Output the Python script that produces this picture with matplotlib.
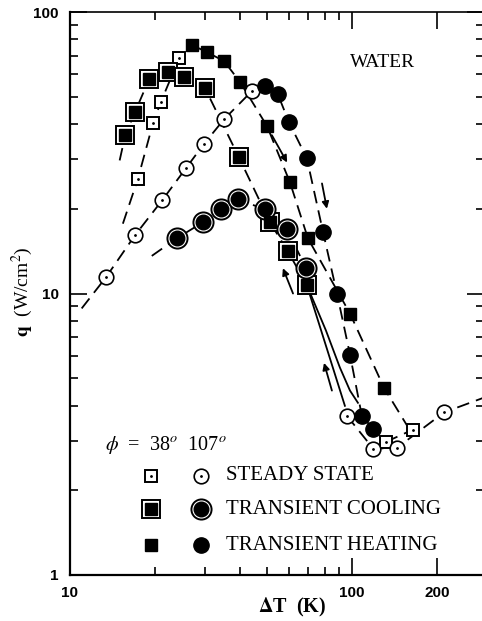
import numpy as np
import matplotlib
matplotlib.use('Agg')
from matplotlib import pyplot as plt
from matplotlib.ticker import FixedLocator, FixedFormatter, NullFormatter

# --- data (dT in K, q in W/cm2) ---
# steady state, phi = 38 deg (squares)
ss_sq_dT = [17.4, 19.7, 21.0, 24.4]
ss_sq_q = [25.5, 40.3, 47.9, 68.6]
ss_sq_lo_dT = [132, 164]
ss_sq_lo_q = [2.97, 3.28]
ss_sq_tail = ([15.4], [17.7])

# steady state, phi = 107 deg (circles)
ss_ci_dT = [13.4, 17.0, 21.2, 25.8, 29.8, 35.2, 44.2]
ss_ci_q = [11.4, 16.1, 21.4, 27.9, 33.9, 41.6, 52.4]
ss_ci_lo_dT = [95.9, 119, 144.5, 212]
ss_ci_lo_q = [3.68, 2.81, 2.83, 3.78]
ss_ci_tail = ([11.0], [8.85])
ss_ci_lo_tail = ([300], [4.3])

# transient cooling
tc_sq_dT = [15.7, 17.0, 19.1, 22.3, 25.4, 30.1, 39.7, 51.2, 59.3, 69.2]
tc_sq_q = [36.5, 44.1, 57.8, 61.1, 58.7, 53.7, 30.5, 17.9, 14.1, 10.7]
tc_sq_tail = ([15.0], [29.7])
tc_ci_dT = [23.9, 29.6, 34.3, 39.4, 49.1, 58.9, 68.7]
tc_ci_q = [15.7, 17.9, 19.9, 21.6, 19.9, 16.9, 12.3]
tc_ci_tail = ([19.5], [13.6])

# quench tails of the cooling runs (solid lines)
quench_a_dT = [69.2, 94.4]
quench_a_q = [10.7, 3.99]
quench_b_dT = [69.2, 80.9, 90.6, 98.4, 105]
quench_b_q = [10.7, 7.38, 5.46, 4.52, 4.09]

# transient heating
th_sq_dT = [27.1, 30.6, 35.2, 40.1, 50.0, 60.3, 69.8, 98.4, 130]
th_sq_q = [76.3, 72.0, 66.9, 56.4, 39.3, 24.8, 15.7, 8.49, 4.62]
th_sq_tail = ([157], [3.39])
th_ci_dT = [49.1, 54.6, 59.8, 69.2, 78.9, 88.5, 98.4, 108.4, 118.6]
th_ci_q = [54.6, 51.0, 40.6, 30.2, 16.6, 10.0, 6.07, 3.68, 3.31]

# direction arrows (tail -> head)
arrows_down = [((52.0, 36.5), (58.9, 29.2)), ((78.3, 24.6), (81.5, 20.0))]
arrows_up = [((61.8, 10.0), (56.9, 12.3)), ((84.9, 4.52), (79.6, 5.67))]

legend_rows = ['STEADY STATE', 'TRANSIENT COOLING', 'TRANSIENT HEATING']

plt.rcParams['font.family'] = ['Liberation Serif', 'DejaVu Serif']
plt.rcParams['mathtext.fontset'] = 'stix'

fig = plt.figure(figsize=(4.82, 6.21), dpi=100)
ax = fig.add_axes([70 / 482, 46 / 621, 414 / 482, 563 / 621])
ax.set_xscale('log')
ax.set_yscale('log')
ax.set_xlim(10, 294)
ax.set_ylim(1, 100)

dash = dict(color='black', lw=1.3, linestyle=(0, (7, 4)), zorder=1)


def join(xs, ys, head=None, tail=None):
    x = list(xs)
    y = list(ys)
    if head:
        x = head[0] + x
        y = head[1] + y
    if tail:
        x = x + tail[0]
        y = y + tail[1]
    ax.plot(x, y, **dash)


join(ss_sq_dT, ss_sq_q, head=ss_sq_tail)
join(ss_sq_lo_dT, ss_sq_lo_q)
join(ss_ci_dT, ss_ci_q, head=ss_ci_tail)
join(ss_ci_lo_dT, ss_ci_lo_q, tail=ss_ci_lo_tail)
join(tc_sq_dT, tc_sq_q, head=tc_sq_tail)
join(tc_ci_dT, tc_ci_q, head=tc_ci_tail)
join(th_sq_dT, th_sq_q, tail=th_sq_tail)
join(th_ci_dT, th_ci_q)
ax.plot(quench_a_dT, quench_a_q, color='black', lw=1.3, zorder=1)
ax.plot(quench_b_dT, quench_b_q, color='black', lw=1.3, zorder=1)

for (x0, y0), (x1, y1) in arrows_down + arrows_up:
    ax.annotate('', xy=(x1, y1), xytext=(x0, y0),
                arrowprops=dict(arrowstyle='-|>', color='black', lw=1.3,
                                mutation_scale=10, shrinkA=0, shrinkB=0))


def steady_sq(x, y, **kw):
    ax.plot(x, y, 's', ms=8, mfc='white', mec='black', mew=1.4, zorder=3, **kw)
    ax.plot(x, y, '.', ms=2, color='black', zorder=4, **kw)


def steady_ci(x, y, **kw):
    ax.plot(x, y, 'o', ms=10.5, mfc='white', mec='black', mew=1.2, zorder=3, **kw)
    ax.plot(x, y, '.', ms=2, color='black', zorder=4, **kw)


def cool_sq(x, y, **kw):
    ax.plot(x, y, 's', ms=13.5, mfc='white', mec='black', mew=1.4, zorder=3, **kw)
    ax.plot(x, y, 's', ms=9, mfc='black', mec='black', mew=1, zorder=4, **kw)


def cool_ci(x, y, **kw):
    ax.plot(x, y, 'o', ms=14.5, mfc='white', mec='black', mew=1.4, zorder=3, **kw)
    ax.plot(x, y, 'o', ms=10.5, mfc='black', mec='black', mew=1, zorder=4, **kw)


def heat_sq(x, y, **kw):
    ax.plot(x, y, 's', ms=8.5, color='black', zorder=3, **kw)


def heat_ci(x, y, **kw):
    ax.plot(x, y, 'o', ms=11, color='black', zorder=3, **kw)


steady_sq(ss_sq_dT, ss_sq_q)
steady_sq(ss_sq_lo_dT, ss_sq_lo_q)
steady_ci(ss_ci_dT, ss_ci_q)
steady_ci(ss_ci_lo_dT, ss_ci_lo_q)
cool_sq(tc_sq_dT, tc_sq_q)
cool_ci(tc_ci_dT, tc_ci_q)
heat_sq(th_sq_dT, th_sq_q)
heat_ci(th_ci_dT, th_ci_q)

# hand-drawn style legend inside the axes
tr = dict(transform=ax.transAxes, clip_on=False)
ax.text(0.085, 0.231, r'$\phi$  =  38$^o$  107$^o$', fontsize=14.5, va='center', **tr)
row_y = [0.176, 0.117, 0.053]
makers = [(steady_sq, steady_ci), (cool_sq, cool_ci), (heat_sq, heat_ci)]
for yy, (fs, fc), label in zip(row_y, makers, legend_rows):
    fs([0.195], [yy], **tr)
    fc([0.317], [yy], **tr)
    ax.text(0.378, yy, label, fontsize=15, va='center', **tr)

ax.text(0.756, 0.911, 'WATER', fontsize=14, ha='center', va='center', transform=ax.transAxes)

# ticks
ax.xaxis.set_major_locator(FixedLocator([10, 100, 200]))
ax.xaxis.set_major_formatter(FixedFormatter(['10', '100', '200']))
ax.xaxis.set_minor_locator(FixedLocator([20, 30, 40, 50, 60, 70, 80, 90]))
ax.xaxis.set_minor_formatter(NullFormatter())
ax.yaxis.set_major_locator(FixedLocator([1, 10, 100]))
ax.yaxis.set_major_formatter(FixedFormatter(['1', '10', '100']))
ax.yaxis.set_minor_locator(FixedLocator([2, 3, 4, 5, 6, 7, 8, 9, 20, 30, 40, 50, 60, 70, 80, 90]))
ax.yaxis.set_minor_formatter(NullFormatter())
ax.tick_params(which='both', direction='in', top=True, right=True, width=1.2)
ax.tick_params(which='major', length=12, pad=8)
ax.tick_params(which='minor', length=6)
for lab in ax.get_xticklabels() + ax.get_yticklabels():
    lab.set_fontfamily('Liberation Sans')
    lab.set_fontweight('bold')
    lab.set_fontsize(11)

for s in ['left', 'bottom']:
    ax.spines[s].set_linewidth(1.6)
ax.spines['top'].set_linewidth(1.2)
ax.spines['right'].set_linewidth(1.2)

fig.text(292 / 482, 1 - 607 / 621, r'$\mathbf{\Delta}$T  (K)', fontsize=14.5,
         fontweight='bold', ha='center', va='center')
fig.text(22 / 482, 1 - 292 / 621, r'$\mathbf{q}$  (W/cm$^2$)', rotation=90,
         fontsize=14, ha='center', va='center')

fig.savefig('out.png', dpi=100)
